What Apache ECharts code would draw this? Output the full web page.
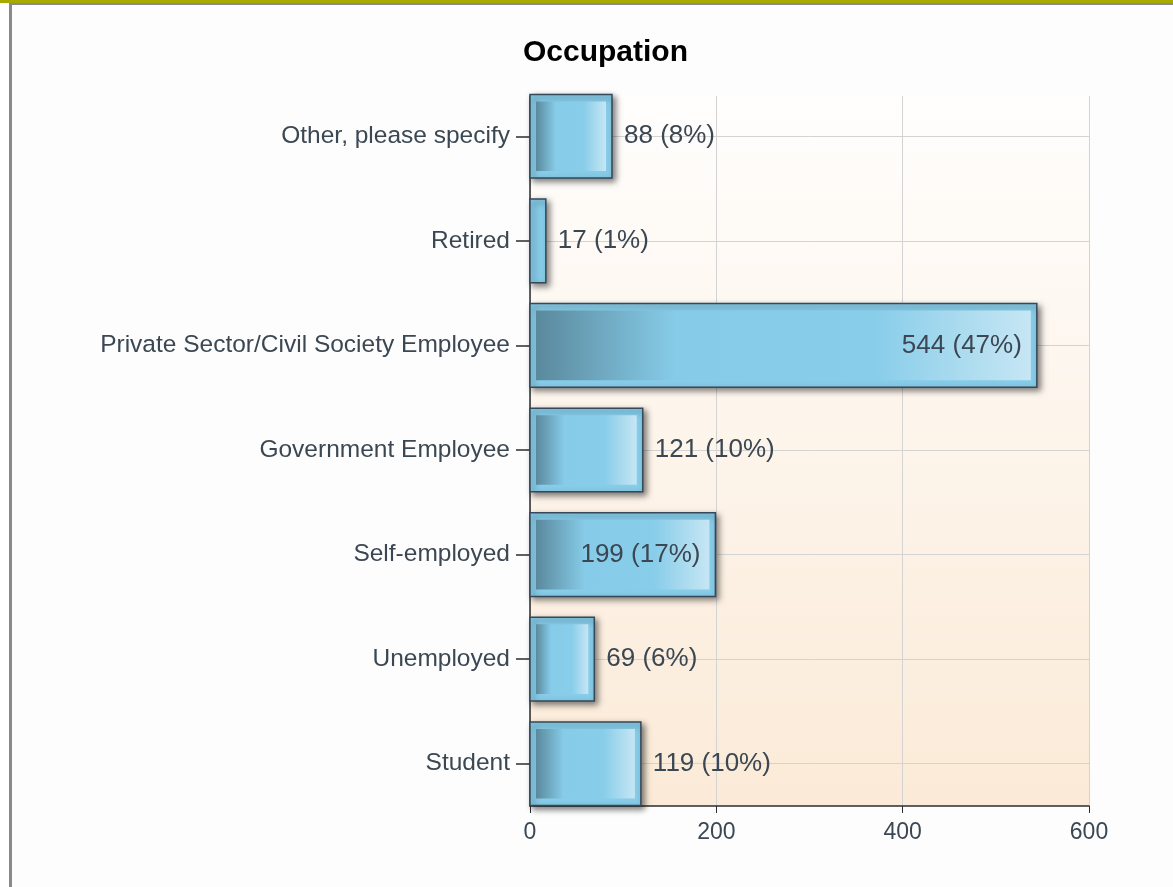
<!DOCTYPE html>
<html>
<head>
<meta charset="utf-8">
<script src="https://cdn.jsdelivr.net/npm/echarts@6/dist/echarts.min.js"></script>
<style>
  html, body { margin: 0; padding: 0; background: #fff; }
  #wrap { position: relative; width: 1173px; height: 887px; overflow: hidden; }
  #topbar { position: absolute; left: 0; top: 0; width: 1173px; height: 3px; background: #a6ab00; }
  #frame { position: absolute; left: 9px; top: 3px; width: 1164px; height: 884px; box-sizing: border-box;
           border-left: 3px solid #8a8a8a; border-top: 2px solid #8a8a8a; background: #fdfdfd; }
  #main { position: absolute; left: 0; top: 0; width: 1173px; height: 887px; }
</style>
</head>
<body>
<div id="wrap">
  <div id="topbar"></div>
  <div id="frame"></div>
  <div id="main"></div>
</div>
<script>
// categories listed top to bottom as in the picture
var categories = ['Other, please specify', 'Retired', 'Private Sector/Civil Society Employee',
    'Government Employee', 'Self-employed', 'Unemployed', 'Student'];
var counts = [88, 17, 544, 121, 199, 69, 119];
var shares = [8, 1, 47, 10, 17, 6, 10];
var xTicks = [0, 200, 400, 600];

var textColor = '#3b4752';
var labelFont = '26px "Liberation Sans", Arial, sans-serif';

var measureCtx = document.createElement('canvas').getContext('2d');
measureCtx.font = labelFont;

var myChart = echarts.init(document.getElementById('main'), null, { renderer: 'canvas' });

function renderBar(params, api) {
    var idx = api.value(1);
    var val = api.value(0);
    var start = api.coord([0, idx]);
    var end = api.coord([val, idx]);
    var band = api.size([0, 1])[1];
    var h = band * 0.8;
    var x0 = start[0];
    var w = end[0] - start[0];
    var y0 = start[1] - h / 2;
    var text = counts[params.dataIndex] + ' (' + shares[params.dataIndex] + '%)';
    var tw = measureCtx.measureText(text).width;
    var inside = w > tw + 30;

    var children = [{
        type: 'rect',
        shape: { x: x0, y: y0, width: w, height: h },
        style: {
            fill: '#87cce8',
            stroke: '#34495a',
            lineWidth: 1.5,
            shadowBlur: 6,
            shadowOffsetX: 3,
            shadowOffsetY: 3,
            shadowColor: 'rgba(0,0,0,0.5)'
        }
    }];
    if (w > 20) {
        children.push({
            type: 'rect',
            shape: { x: x0 + 6, y: y0 + 7, width: w - 12, height: h - 14 },
            style: {
                fill: new echarts.graphic.LinearGradient(0, 0, 1, 0, [
                    { offset: 0, color: '#5a899d' },
                    { offset: 0.28, color: '#86cbe7' },
                    { offset: 0.68, color: '#88cde9' },
                    { offset: 1, color: '#c6e6f4' }
                ])
            }
        });
    }
    children.push({
        type: 'text',
        x: inside ? x0 + w - 15 : x0 + w + 12,
        y: start[1],
        style: {
            text: text,
            font: labelFont,
            fill: textColor,
            align: inside ? 'right' : 'left',
            verticalAlign: 'middle'
        },
        z2: 10
    });
    return { type: 'group', children: children };
}

myChart.setOption({
    backgroundColor: 'transparent',
    animation: false,
    title: {
        text: 'Occupation',
        left: 518,
        top: 33,
        textStyle: { fontSize: 30, fontWeight: 'bold', color: '#000', fontFamily: '"Liberation Sans", Arial, sans-serif' }
    },
    grid: [
        // grid 0: category bands (bars fill top to bottom of plot)
        { left: 530, right: 84, top: 84, bottom: 71, z: 1 },
        // grid 1: visible plot area with gradient background and value axis
        {
            left: 530, right: 84, top: 96, bottom: 81, z: -1,
            show: true,
            borderWidth: 0,
            backgroundColor: new echarts.graphic.LinearGradient(0, 0, 0, 1, [
                { offset: 0, color: '#fffefd' },
                { offset: 1, color: '#fbead7' }
            ])
        }
    ],
    xAxis: [
        { gridIndex: 0, type: 'value', min: 0, max: 600, show: false },
        {
            gridIndex: 1, type: 'value', min: 0, max: 600, interval: 200,
            axisLine: { show: true, lineStyle: { color: '#2d2d2d', width: 1.5 } },
            axisTick: { show: true, length: 7, lineStyle: { color: '#2d2d2d' } },
            axisLabel: {
                margin: 15, color: textColor, fontSize: 23,
                fontFamily: '"Liberation Sans", Arial, sans-serif',
                formatter: function (v) { return xTicks.indexOf(v) >= 0 ? String(v) : ''; }
            },
            splitLine: { show: true, lineStyle: { color: '#d3d3d3', width: 1 } }
        }
    ],
    yAxis: [
        {
            gridIndex: 0, type: 'category', data: categories, inverse: true,
            axisLine: { show: false },
            axisTick: { show: true, alignWithLabel: true, length: 14, lineStyle: { color: '#2d2d2d', width: 1.5 } },
            axisLabel: { margin: 20, color: textColor, fontSize: 24.5, fontFamily: '"Liberation Sans", Arial, sans-serif' },
            splitLine: { show: true, alignWithLabel: true, lineStyle: { color: '#d3d3d3', width: 1 } }
        },
        {
            gridIndex: 1, type: 'value', min: 0, max: 1,
            axisLine: { show: true, lineStyle: { color: '#2d2d2d', width: 1.5 } },
            axisTick: { show: false },
            axisLabel: { show: false },
            splitLine: { show: false }
        }
    ],
    series: [{
        name: 'Occupation',
        type: 'custom',
        xAxisIndex: 0,
        yAxisIndex: 0,
        renderItem: renderBar,
        encode: { x: 0, y: 1 },
        data: counts.map(function (v, i) { return [v, i]; }),
        z: 3
    }]
});
</script>
</body>
</html>
